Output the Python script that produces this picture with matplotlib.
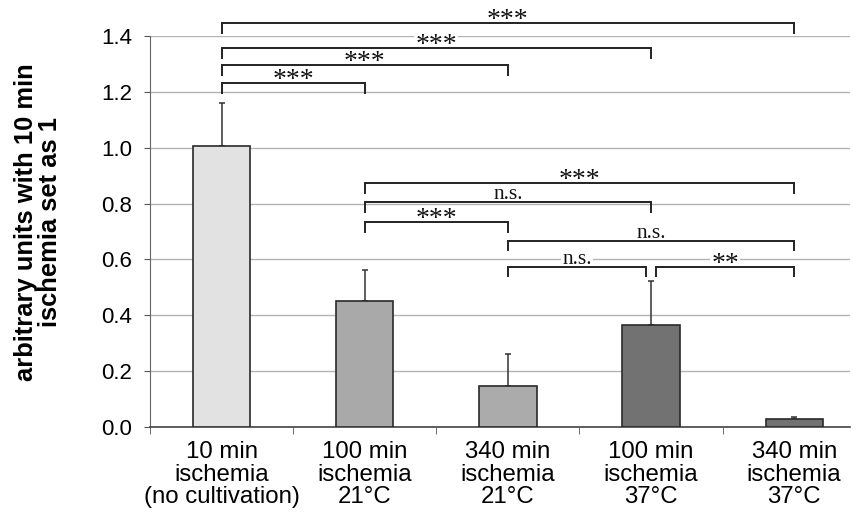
import matplotlib
matplotlib.use("Agg")

import numpy as np
import matplotlib.pyplot as plt
from matplotlib.ticker import MultipleLocator

categories = [
    "10 min\nischemia\n(no cultivation)",
    "100 min\nischemia\n21°C",
    "340 min\nischemia\n21°C",
    "100 min\nischemia\n37°C",
    "340 min\nischemia\n37°C",
]
values = [1.007, 0.450, 0.147, 0.365, 0.027]
errors = [0.154, 0.112, 0.114, 0.158, 0.010]
bar_colors = ["#e2e2e2", "#a9a9a9", "#ababab", "#727272", "#727272"]

# significance brackets: (left bar, right bar), bracket height, label
bracket_pairs = [(0, 4), (0, 3), (0, 2), (0, 1), (1, 4), (1, 3), (1, 2), (2, 4), (2, 3), (3, 4)]
bracket_y = [1.445, 1.358, 1.296, 1.232, 0.8725, 0.8045, 0.733, 0.667, 0.574, 0.574]
bracket_labels = ["***", "***", "***", "***", "***", "n.s.", "***", "n.s.", "n.s.", "**"]

ylabel = "arbitrary units with 10 min\nischemia set as 1"

fig = plt.figure(figsize=(8.56, 5.17), dpi=100)
ax = fig.add_axes([150 / 856, 1 - 427 / 517, 700 / 856, 391 / 517])

x = np.arange(len(values))
ax.bar(x, values, width=0.4, color=bar_colors, edgecolor="#2a2a2a", linewidth=1.2, zorder=3)
ax.errorbar(x, values, yerr=[np.zeros(len(errors)), errors], fmt="none",
            ecolor="#333333", elinewidth=1.1, capsize=2.5, capthick=1.1, zorder=2)

ax.set_xlim(-0.5, 4.39)
ax.set_ylim(0, 1.4)
ax.yaxis.set_major_locator(MultipleLocator(0.2))
ax.set_yticklabels([f"{v:.1f}" for v in ax.get_yticks()])
ax.grid(axis="y", color="#b4b4b4", linewidth=1.0, zorder=0)
ax.set_axisbelow(True)

ax.set_xticks(x)
ax.set_xticklabels(categories, fontsize=17.3, family="Liberation Sans", linespacing=1.04)
ax.set_xticks(np.arange(-0.5, 4.0, 1.0), minor=True)
ax.tick_params(axis="x", which="major", length=0, pad=10)
ax.tick_params(axis="x", which="minor", length=5, color="#555555", direction="out")
ax.tick_params(axis="y", length=4, color="#555555", direction="out", pad=9)
for lab in ax.get_yticklabels():
    lab.set_fontsize(16)
    lab.set_family("Liberation Sans")

for side in ["top", "right"]:
    ax.spines[side].set_visible(False)
ax.spines["left"].set_color("#666666")
ax.spines["bottom"].set_color("#444444")
ax.spines["bottom"].set_linewidth(1.2)

fig.text(38 / 856, 1 - 222 / 517, ylabel, rotation=90, ha="center", va="center",
         fontsize=18.4, fontweight="bold", family="Liberation Sans",
         multialignment="center", linespacing=1.0)

# brackets
tip = 0.035
gap = 0.035
grid_levels = np.arange(0.2, 1.41, 0.2)
for (a, b), yb, lab in zip(bracket_pairs, bracket_y, bracket_labels):
    xa, xb = float(a), float(b)
    for (c, d), yo in zip(bracket_pairs, bracket_y):
        if yo == yb and (c, d) != (a, b):
            if c == b:
                xb -= gap
            if d == a:
                xa += gap
    ax.plot([xa, xa, xb, xb], [yb - tip, yb, yb, yb - tip], color="#222222",
            linewidth=1.4, clip_on=False, zorder=6, solid_joinstyle="miter")
    if lab.startswith("*"):
        ty, fs = yb - 0.014, 20
        h = 0.05
    else:
        ty, fs = yb + 0.011, 15.5
        h = 0.04
    on_grid = np.any((grid_levels > yb + 0.005) & (grid_levels < yb + h))
    bbox = dict(facecolor="white", edgecolor="none", pad=1.0) if on_grid else None
    ax.text((xa + xb) / 2, ty, lab, ha="center", va="baseline", fontsize=fs,
            family="Liberation Serif", color="#111111", clip_on=False, zorder=5, bbox=bbox)

fig.savefig("out.png", dpi=100)
